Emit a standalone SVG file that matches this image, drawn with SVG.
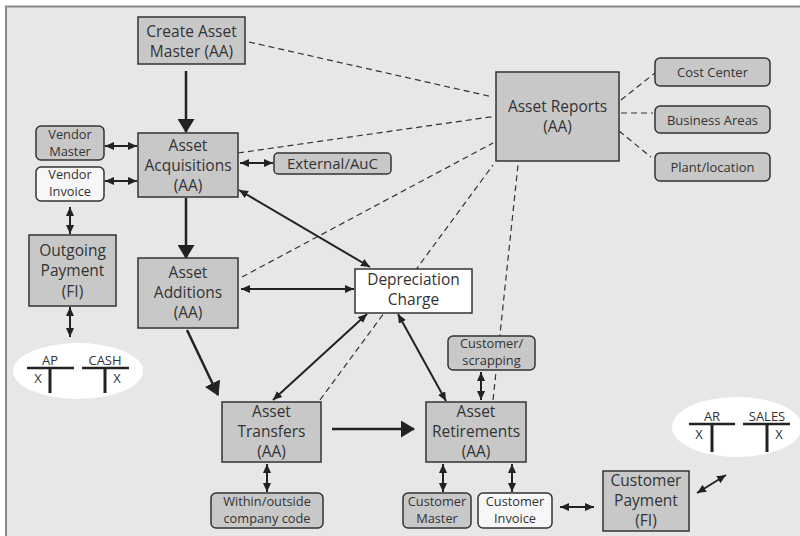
<svg xmlns="http://www.w3.org/2000/svg" width="800" height="536" viewBox="0 0 800 536">
<defs>
<style>
.bg{fill:#e6e7e9;stroke:#8a8a8a;stroke-width:2}
.box{fill:#c8c8c8;stroke:#333;stroke-width:1.5}
.wbox{fill:#ffffff;stroke:#333;stroke-width:1.5}
.lbox{fill:#f7f7f7;stroke:#333;stroke-width:1.5}
.t{font-family:"Open Sans","DejaVu Sans",sans-serif;font-size:15.5px;fill:#333;text-anchor:middle}
.s{font-family:"Open Sans","DejaVu Sans",sans-serif;font-size:13px;fill:#333;text-anchor:middle}
.m{font-family:"Open Sans","DejaVu Sans",sans-serif;font-size:12.8px;fill:#333;text-anchor:middle}
.big{stroke:#222;stroke-width:2.5;fill:none;marker-end:url(#bigArrow)}
.dbl{stroke:#222;stroke-width:2;fill:none;marker-start:url(#sArrow);marker-end:url(#sArrow)}
.dash{stroke:#333;stroke-width:1.2;fill:none;stroke-dasharray:6 4}
.acc{stroke:#222;fill:none}
</style>
<marker id="bigArrow" markerUnits="userSpaceOnUse" markerWidth="14" markerHeight="17" viewBox="0 0 14 17" refX="13" refY="8.5" orient="auto">
<path d="M0,0 L14,8.5 L0,17 Z" fill="#222"/>
</marker>
<marker id="sArrow" markerUnits="userSpaceOnUse" markerWidth="9" markerHeight="8" viewBox="0 0 9 8" refX="9" refY="4" orient="auto-start-reverse">
<path d="M0,0 L9,4 L0,8 Z" fill="#222"/>
</marker>
</defs>
<rect x="0" y="0" width="800" height="536" fill="#ffffff"/>
<rect class="bg" x="6" y="6.5" width="800" height="540"/>

<g id="connectors">
<line class="dash" x1="249" y1="42" x2="493" y2="97"/>
<line class="dash" x1="238" y1="153" x2="497" y2="116"/>
<line class="dash" x1="242" y1="277" x2="493" y2="143"/>
<line class="dash" x1="320" y1="400" x2="493" y2="165"/>
<line class="dash" x1="493" y1="400" x2="518" y2="165"/>
<line class="dash" x1="621" y1="100" x2="655" y2="73"/>
<line class="dash" x1="621" y1="113" x2="653" y2="113"/>
<line class="dash" x1="619" y1="131" x2="651" y2="157"/>
<line class="big" x1="186" y1="71" x2="186" y2="132"/>
<line class="big" x1="186" y1="198" x2="186" y2="258"/>
<line class="big" x1="187" y1="330" x2="218" y2="395"/>
<line class="big" x1="332" y1="429" x2="414" y2="429"/>
<line class="dbl" x1="105" y1="146" x2="137" y2="146"/>
<line class="dbl" x1="105" y1="181" x2="137" y2="181"/>
<line class="dbl" x1="240" y1="163" x2="273" y2="163"/>
<line class="dbl" x1="70" y1="207" x2="70" y2="234"/>
<line class="dbl" x1="70" y1="307" x2="70" y2="337"/>
<line class="dbl" x1="239" y1="190" x2="370" y2="267"/>
<line class="dbl" x1="241" y1="289" x2="354" y2="289"/>
<line class="dbl" x1="273" y1="400" x2="367" y2="314"/>
<line class="dbl" x1="398" y1="314" x2="446" y2="401"/>
<line class="dbl" x1="481" y1="372" x2="481" y2="400"/>
<line class="dbl" x1="267" y1="464" x2="267" y2="492"/>
<line class="dbl" x1="443" y1="464" x2="443" y2="492"/>
<line class="dbl" x1="512" y1="464" x2="512" y2="492"/>
<line class="dbl" x1="560" y1="507" x2="594" y2="507"/>
<line class="dbl" x1="697" y1="493" x2="726" y2="475"/>
</g>

<g id="create-asset-master">
<rect class="box" x="138" y="17" width="107" height="47"/>
<text class="t" x="191.5" y="36.5">Create Asset</text>
<text class="t" x="191.5" y="56.5">Master (AA)</text>
</g>
<g id="asset-acquisitions">
<rect class="box" x="138" y="133" width="100" height="64"/>
<text class="t" x="188" y="150.5">Asset</text>
<text class="t" x="188" y="171">Acquisitions</text>
<text class="t" x="188" y="191">(AA)</text>
</g>
<g id="vendor-master">
<rect class="box" x="36" y="126" width="68" height="34" rx="5"/>
<text class="m" x="70" y="139.3">Vendor</text>
<text class="m" x="70" y="155.8">Master</text>
</g>
<g id="vendor-invoice">
<rect class="lbox" x="36" y="167" width="68" height="34" rx="5"/>
<text class="m" x="70" y="179.3">Vendor</text>
<text class="m" x="70" y="195.8">Invoice</text>
</g>
<g id="external-auc">
<rect class="box" x="274" y="153" width="117" height="21" rx="4"/>
<text class="t" x="332.5" y="168.5" style="font-size:15px">External/AuC</text>
</g>
<g id="outgoing-payment">
<rect class="box" x="29" y="235" width="87" height="71"/>
<text class="t" x="72.5" y="256">Outgoing</text>
<text class="t" x="72.5" y="276">Payment</text>
<text class="t" x="72.5" y="297">(FI)</text>
</g>
<g id="ap-cash">
<ellipse cx="78" cy="371" rx="65" ry="28" fill="#ffffff"/>
<text class="s" x="50" y="364.5">AP</text>
<text class="s" x="105" y="364.5">CASH</text>
<line class="acc" x1="27" y1="368" x2="74" y2="368" stroke-width="2.5"/>
<line class="acc" x1="50" y1="368" x2="50" y2="393" stroke-width="3"/>
<line class="acc" x1="82" y1="368" x2="129" y2="368" stroke-width="2.5"/>
<line class="acc" x1="105" y1="368" x2="105" y2="393" stroke-width="3"/>
<text class="s" x="38" y="383">X</text>
<text class="s" x="117" y="383">X</text>
</g>
<g id="asset-additions">
<rect class="box" x="138" y="258" width="100" height="70"/>
<text class="t" x="188" y="278">Asset</text>
<text class="t" x="188" y="298">Additions</text>
<text class="t" x="188" y="318">(AA)</text>
</g>
<g id="depreciation-charge">
<rect class="wbox" x="355" y="269" width="117" height="44"/>
<text class="t" x="413.5" y="285">Depreciation</text>
<text class="t" x="413.5" y="305">Charge</text>
</g>
<g id="asset-transfers">
<rect class="box" x="222" y="402" width="99" height="60"/>
<text class="t" x="271.5" y="417">Asset</text>
<text class="t" x="271.5" y="437">Transfers</text>
<text class="t" x="271.5" y="457">(AA)</text>
</g>
<g id="within-outside">
<rect class="box" x="211" y="493" width="112" height="35" rx="5"/>
<text class="m" x="267" y="506.3">Within/outside</text>
<text class="m" x="267" y="522.8">company code</text>
</g>
<g id="asset-reports">
<rect class="box" x="496" y="72" width="123" height="89"/>
<text class="t" x="557.5" y="112">Asset Reports</text>
<text class="t" x="557.5" y="132">(AA)</text>
</g>
<g id="cost-center">
<rect class="box" x="655" y="58" width="115" height="28" rx="5"/>
<text class="s" x="712.5" y="76.5">Cost Center</text>
</g>
<g id="business-areas">
<rect class="box" x="655" y="106" width="115" height="27" rx="5"/>
<text class="s" x="712.5" y="124.5">Business Areas</text>
</g>
<g id="plant-location">
<rect class="box" x="655" y="153" width="115" height="28" rx="5"/>
<text class="s" x="712.5" y="171.5">Plant/location</text>
</g>
<g id="customer-scrapping">
<rect class="box" x="448" y="336" width="87" height="34" rx="5"/>
<text class="m" x="491.5" y="348.3">Customer/</text>
<text class="m" x="491.5" y="364.8">scrapping</text>
</g>
<g id="asset-retirements">
<rect class="box" x="426" y="402" width="100" height="60"/>
<text class="t" x="476" y="417">Asset</text>
<text class="t" x="476" y="437">Retirements</text>
<text class="t" x="476" y="457">(AA)</text>
</g>
<g id="customer-master">
<rect class="box" x="403" y="493" width="68" height="35" rx="5"/>
<text class="m" x="437" y="506.3">Customer</text>
<text class="m" x="437" y="522.8">Master</text>
</g>
<g id="customer-invoice">
<rect class="lbox" x="478" y="493" width="74" height="35" rx="5"/>
<text class="m" x="515" y="506.3">Customer</text>
<text class="m" x="515" y="522.8">Invoice</text>
</g>
<g id="customer-payment">
<rect class="box" x="603" y="471" width="86" height="60"/>
<text class="t" x="646" y="486">Customer</text>
<text class="t" x="646" y="506">Payment</text>
<text class="t" x="646" y="526">(FI)</text>
</g>
<g id="ar-sales">
<ellipse cx="737" cy="427" rx="65" ry="30" fill="#ffffff"/>
<text class="s" x="712" y="420.5">AR</text>
<text class="s" x="767" y="420.5">SALES</text>
<line class="acc" x1="689" y1="424" x2="735" y2="424" stroke-width="2.5"/>
<line class="acc" x1="712" y1="424" x2="712" y2="452" stroke-width="3"/>
<line class="acc" x1="743" y1="424" x2="790" y2="424" stroke-width="2.5"/>
<line class="acc" x1="767" y1="424" x2="767" y2="452" stroke-width="3"/>
<text class="s" x="699" y="439">X</text>
<text class="s" x="779" y="439">X</text>
</g>
</svg>
